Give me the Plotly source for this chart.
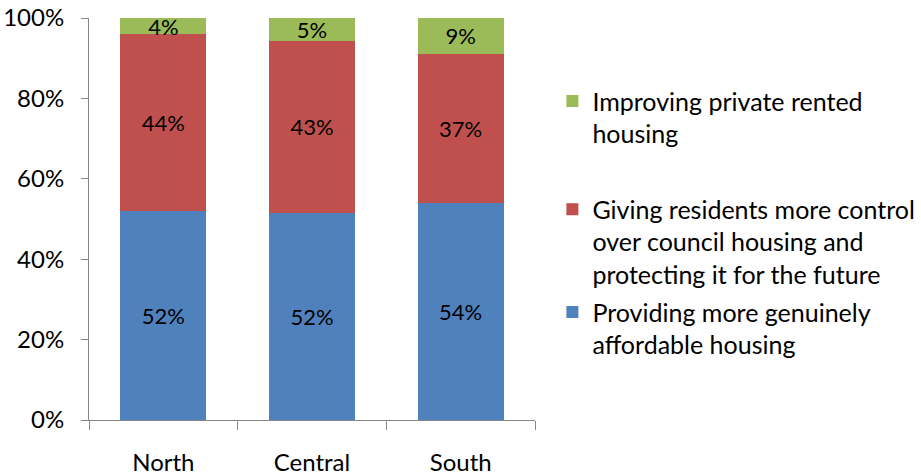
import plotly.graph_objects as go

regions = ["North", "Central", "South"]
affordable = [51.9, 51.5, 54.0]
council = [44.1, 42.8, 37.1]
private_rented = [4.0, 5.7, 8.9]
affordable_labels = ["52%", "52%", "54%"]
council_labels = ["44%", "43%", "37%"]
private_labels = ["4%", "5%", "9%"]

series_names = [
    "Providing more genuinely<br>affordable housing",
    "Giving residents more control<br>over council housing and<br>protecting it for the future",
    "Improving private rented<br>housing",
]
colors = ["#4F81BD", "#C0504D", "#9BBB59"]
legend_ids = ["legend3", "legend2", "legend"]

FONT = "Lato, Carlito, Calibri, sans-serif"
FS_LABEL = 22
FS_TICK = 24
FS_LEGEND = 25

fig = go.Figure()
for i, (vals, labels) in enumerate([(affordable, affordable_labels),
                                    (council, council_labels),
                                    (private_rented, private_labels)]):
    fig.add_trace(go.Bar(
        x=regions, y=vals, name=series_names[i],
        marker=dict(color=colors[i], line=dict(width=0)),
        text=labels, textposition="inside", insidetextanchor="middle",
        constraintext="none", textangle=0,
        textfont=dict(family=FONT, size=FS_LABEL, color="#000000"),
        legend=legend_ids[i],
    ))

legend_style = dict(
    xanchor="left", yanchor="top", valign="top",
    font=dict(family=FONT, size=FS_LEGEND, color="#000000"),
    bgcolor="rgba(0,0,0,0)",
)
LEG_X = 1.039

fig.update_layout(
    barmode="stack",
    bargap=0.42,
    width=921, height=476,
    margin=dict(l=89, r=386, t=18, b=56, autoexpand=False),
    plot_bgcolor="white", paper_bgcolor="white",
    font=dict(family=FONT, size=FS_TICK, color="#000000"),
    showlegend=True,
    legend=dict(x=LEG_X, y=0.850, **legend_style),
    legend2=dict(x=LEG_X, y=0.581, **legend_style),
    legend3=dict(x=LEG_X, y=0.325, **legend_style),
    xaxis=dict(
        showline=True, linecolor="#868686", linewidth=1,
        ticks="outside", tickson="boundaries", ticklen=9, tickcolor="#868686",
        ticklabelstandoff=21, showgrid=False, automargin=False,
        ticklabeloverflow="allow",
        tickfont=dict(family=FONT, size=FS_TICK, color="#000000"),
    ),
    yaxis=dict(
        range=[0, 100], tickvals=[0, 20, 40, 60, 80, 100],
        ticktext=["0%", "20%", "40%", "60%", "80%", "100%"],
        showline=True, linecolor="#868686", linewidth=1,
        ticks="outside", ticklen=7, tickcolor="#868686",
        ticklabelstandoff=12, showgrid=False, zeroline=False, automargin=False,
        ticklabeloverflow="allow",
        tickfont=dict(family=FONT, size=FS_TICK, color="#000000"),
    ),
)

fig.write_html("out.html", config={"displayModeBar": False},
               post_script="document.body.style.margin='0';")
